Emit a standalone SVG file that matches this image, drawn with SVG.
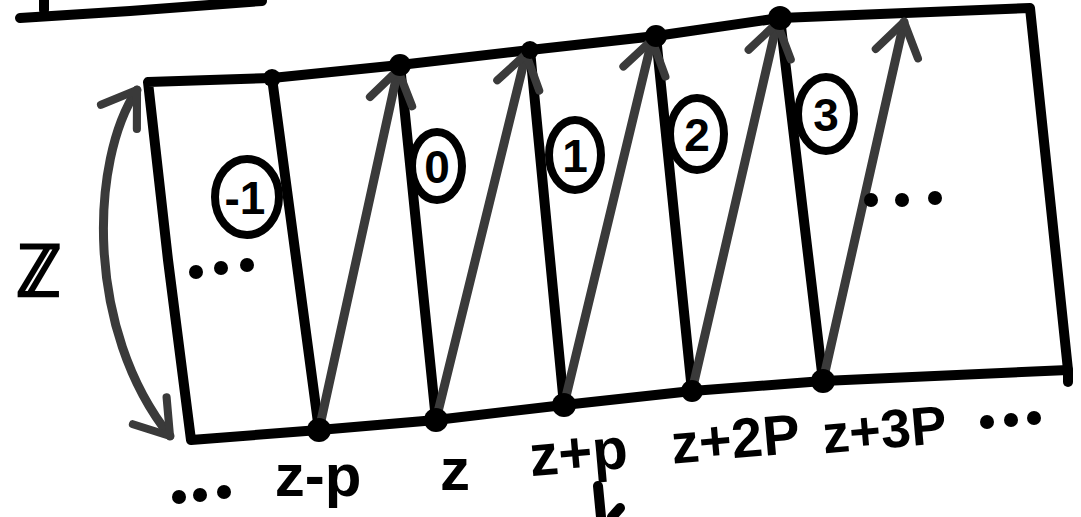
<svg xmlns="http://www.w3.org/2000/svg" width="1081" height="517" viewBox="0 0 1081 517">
<defs>
<style>
.blk{fill:none;stroke:#000;stroke-width:10;stroke-linecap:round;stroke-linejoin:round}
.gry{fill:none;stroke:#3a3a3a;stroke-width:9;stroke-linecap:round;stroke-linejoin:round}
.ring{fill:#fff;stroke:#000;stroke-width:8}
.dot{fill:#000}
.lbl{font-family:"Liberation Sans",Arial,sans-serif;font-weight:bold;fill:#000;text-anchor:middle}
.num{font-family:"Liberation Sans",Arial,sans-serif;font-weight:bold;fill:#000;text-anchor:middle;font-size:46px}
</style>
<marker id="ah" viewBox="0 0 20 20" refX="14" refY="10" markerWidth="6" markerHeight="6" markerUnits="strokeWidth" orient="auto">
<path d="M2,2 L14,10 L2,18" fill="none" stroke="#3a3a3a" stroke-width="3" stroke-linecap="round" stroke-linejoin="round"/>
</marker>
<marker id="ahs" viewBox="0 0 20 20" refX="14" refY="10" markerWidth="6" markerHeight="6" markerUnits="strokeWidth" orient="auto-start-reverse">
<path d="M2,2 L14,10 L2,18" fill="none" stroke="#3a3a3a" stroke-width="3" stroke-linecap="round" stroke-linejoin="round"/>
</marker>
</defs>
<rect width="1081" height="517" fill="#fff"/>
<g id="top-stroke">
<path class="blk" d="M20,18 L130,11 L262,1"/>
<path class="blk" d="M44,0 L44,10"/>
</g>
<g id="strip">
<path class="blk" d="M148,82 L272,78 L400,65 L530,50 L656,36 L780,18 L1030,8 L1068,370 L823,381 L692,391 L564,405 L436,420 L319,430 L191,440 L168,260 Z"/>
<path class="blk" d="M1068,370 L1068,382"/>
</g>
<g id="connectors">
<path class="blk" d="M272,78 L319,430"/>
<path class="blk" d="M400,65 L436,420"/>
<path class="blk" d="M530,50 L564,405"/>
<path class="blk" d="M656,36 L692,391"/>
<path class="blk" d="M780,18 L823,381"/>
<path class="gry" marker-end="url(#ah)" d="M319,430 L398,70"/>
<path class="gry" marker-end="url(#ah)" d="M436,420 L526,54"/>
<path class="gry" marker-end="url(#ah)" d="M564,405 L652,40"/>
<path class="gry" marker-end="url(#ah)" d="M692,391 L777,23"/>
<path class="gry" marker-end="url(#ah)" d="M823,381 L904,22"/>
<path class="gry" marker-start="url(#ahs)" marker-end="url(#ah)" d="M137,90 C90,160 85,330 170,436"/>
</g>
<g id="points">
<circle class="dot" cx="272" cy="78" r="9"/>
<circle class="dot" cx="400" cy="65" r="11"/>
<circle class="dot" cx="530" cy="50" r="9"/>
<circle class="dot" cx="656" cy="36" r="11"/>
<circle class="dot" cx="780" cy="18" r="12"/>
<circle class="dot" cx="319" cy="430" r="12"/>
<circle class="dot" cx="436" cy="420" r="12"/>
<circle class="dot" cx="564" cy="405" r="12"/>
<circle class="dot" cx="692" cy="391" r="11"/>
<circle class="dot" cx="823" cy="381" r="12"/>
</g>
<g id="region-m1">
<ellipse class="ring" cx="247" cy="197" rx="32" ry="38"/>
<text class="num" x="245" y="214">-1</text>
</g>
<g id="region-0">
<ellipse class="ring" cx="437" cy="166" rx="25" ry="34"/>
<text class="num" x="437" y="183">0</text>
</g>
<g id="region-1">
<ellipse class="ring" cx="575" cy="155" rx="26" ry="35"/>
<text class="num" x="575" y="172">1</text>
</g>
<g id="region-2">
<ellipse class="ring" cx="697" cy="134" rx="27" ry="36"/>
<text class="num" x="697" y="151">2</text>
</g>
<g id="region-3">
<ellipse class="ring" cx="826" cy="114" rx="28" ry="37"/>
<text class="num" x="826" y="131">3</text>
</g>
<g id="ellipses">
<circle class="dot" cx="196" cy="272" r="7"/>
<circle class="dot" cx="221" cy="268" r="7"/>
<circle class="dot" cx="247" cy="265" r="7"/>
<circle class="dot" cx="871" cy="200" r="7"/>
<circle class="dot" cx="902" cy="200" r="7"/>
<circle class="dot" cx="935" cy="198" r="7"/>
<circle class="dot" cx="179" cy="497" r="7"/>
<circle class="dot" cx="200" cy="495" r="7"/>
<circle class="dot" cx="224" cy="492" r="7"/>
<circle class="dot" cx="987" cy="422" r="7"/>
<circle class="dot" cx="1011" cy="420" r="7"/>
<circle class="dot" cx="1034" cy="418" r="7"/>
</g>
<g id="labels">
<text class="lbl" x="38" y="296" font-size="72" font-family="DejaVu Sans, sans-serif">ℤ</text>
<text class="lbl" x="318" y="496" font-size="60">z-p</text>
<text class="lbl" x="455" y="490" font-size="60">z</text>
<text class="lbl" x="580" y="472" font-size="58" transform="rotate(-5 580 472)">z+p</text>
<text class="lbl" x="737" y="458" font-size="56" transform="rotate(-5 737 458)">z+2P</text>
<text class="lbl" x="886" y="448" font-size="54" transform="rotate(-5 886 448)">z+3P</text>
</g>
<g id="cut-mark">
<path class="blk" d="M598,486 L601,517"/>
<path class="blk" d="M620,508 L612,517"/>
</g>
</svg>
